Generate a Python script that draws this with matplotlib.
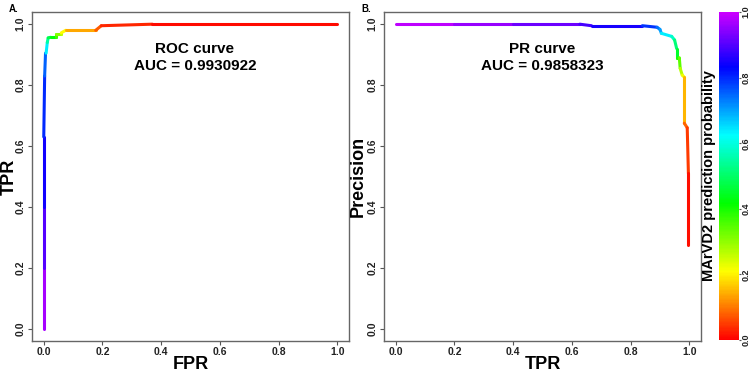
import numpy as np
import matplotlib
matplotlib.use('Agg')
import matplotlib.pyplot as plt
from matplotlib.collections import LineCollection
from matplotlib.colors import ListedColormap, Normalize, hsv_to_rgb
from matplotlib.cm import ScalarMappable

plt.rcParams['font.family'] = ['Liberation Sans', 'DejaVu Sans']
plt.rcParams['font.weight'] = 'bold'

# ROC curve points (threshold = colour value)
roc_fpr = [0.0, 0.0, 0.0, 0.0, 0.003, 0.006, 0.008, 0.012, 0.015, 0.023, 0.04, 0.04,
           0.06, 0.06, 0.075, 0.177, 0.196, 0.37, 1.0]
roc_tpr = [0.0, 0.2, 0.4, 0.63, 0.83, 0.905, 0.905, 0.94, 0.955, 0.957, 0.957, 0.967,
           0.967, 0.972, 0.98, 0.98, 0.995, 1.0, 1.0]
roc_thr = [1.0, 0.93, 0.87, 0.82, 0.78, 0.72, 0.68, 0.6, 0.5, 0.45, 0.4, 0.33,
           0.28, 0.24, 0.18, 0.1, 0.05, 0.02, 0.0]
roc_auc = "0.9930922"

# PR curve points
pr_rec = [0.0, 0.2, 0.4, 0.627, 0.667, 0.84, 0.89, 0.90, 0.905, 0.94, 0.95, 0.957,
          0.957, 0.966, 0.969, 0.976, 0.983, 0.983, 0.993, 0.997, 0.997]
pr_prec = [1.0, 1.0, 1.0, 1.0, 0.995, 0.995, 0.99, 0.983, 0.97, 0.96, 0.948, 0.92,
           0.89, 0.89, 0.855, 0.833, 0.826, 0.675, 0.66, 0.51, 0.275]
pr_thr = [1.0, 0.97, 0.94, 0.9, 0.88, 0.82, 0.76, 0.72, 0.68, 0.6, 0.55, 0.48,
          0.42, 0.38, 0.3, 0.24, 0.2, 0.1, 0.07, 0.03, 0.0]
pr_auc = "0.9858323"

ticks = [0.0, 0.2, 0.4, 0.6, 0.8, 1.0]

# R style rainbow(end = 0.8)
hues = np.linspace(0, 0.8, 256)
rb = hsv_to_rgb(np.column_stack([hues, np.ones(256), np.ones(256)]))
cmap = ListedColormap(rb)
norm = Normalize(0, 1)

fig = plt.figure(figsize=(7.5, 3.73), dpi=100)
ax1 = fig.add_axes([0.0427, 0.0858, 0.4227, 0.882])
ax2 = fig.add_axes([0.512, 0.0858, 0.4227, 0.882])
cax = fig.add_axes([0.9585, 0.0885, 0.027, 0.879])


def colored_line(ax, x, y, t):
    pts = np.column_stack([x, y]).reshape(-1, 1, 2)
    segs = np.concatenate([pts[:-1], pts[1:]], axis=1)
    tt = np.asarray(t)
    mid = (tt[:-1] + tt[1:]) / 2
    lc = LineCollection(segs, cmap=cmap, norm=norm, linewidth=2.2, capstyle='round')
    lc.set_array(mid)
    ax.add_collection(lc)


def style(ax, xlabel, ylabel, ypad):
    ax.set_xlim(-0.04, 1.04)
    ax.set_ylim(-0.04, 1.04)
    ax.set_xticks(ticks)
    ax.set_yticks(ticks)
    ax.set_xticklabels(['%.1f' % v for v in ticks], fontsize=7.5, fontweight='bold', color='#222222')
    ax.set_yticklabels(['%.1f' % v for v in ticks], fontsize=7.5, fontweight='bold', color='#222222',
                       rotation=90, va='center')
    ax.tick_params(length=3, width=0.8, color='#555555', pad=1.5)
    for s in ax.spines.values():
        s.set_color('#666666')
        s.set_linewidth(1.0)
    ax.set_xlabel(xlabel, fontsize=13, fontweight='bold', labelpad=-1)
    ax.set_ylabel(ylabel, fontsize=13, fontweight='bold', labelpad=ypad)


colored_line(ax1, roc_fpr, roc_tpr, roc_thr)
style(ax1, 'FPR', 'TPR', -1.5)
ax1.text(0.515, 0.89, 'ROC curve\nAUC = ' + roc_auc, ha='center', va='center',
         fontsize=11, fontweight='bold', linespacing=1.25)

colored_line(ax2, pr_rec, pr_prec, pr_thr)
style(ax2, 'TPR', 'Precision', 0.5)
ax2.text(0.5, 0.89, 'PR curve\nAUC = ' + pr_auc, ha='center', va='center',
         fontsize=11, fontweight='bold', linespacing=1.25)

fig.text(0.012, 0.975, 'A.', fontsize=7, fontweight='bold', va='center')
fig.text(0.482, 0.975, 'B.', fontsize=7, fontweight='bold', va='center')

cb = fig.colorbar(ScalarMappable(norm=norm, cmap=cmap), cax=cax, ticks=ticks)
cb.outline.set_visible(False)
cax.set_yticklabels(['%.1f' % v for v in ticks], fontsize=6.5, fontweight='bold', color='#222222',
                    rotation=90, va='center')
cax.tick_params(length=1.2, width=0.8, color='#555555', pad=0.5)
cax.set_ylabel('MArVD2 prediction probability', fontsize=10.5, fontweight='bold', labelpad=2)
cax.yaxis.set_label_position('left')

fig.savefig('out.png', dpi=100)
